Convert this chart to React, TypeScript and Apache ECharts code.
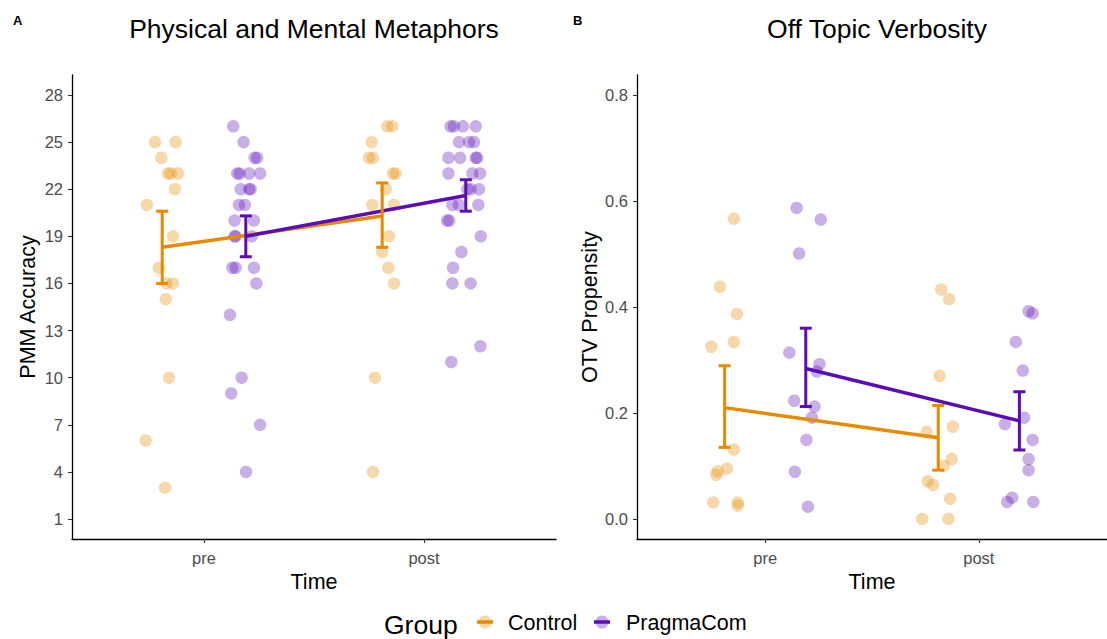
import React, { useEffect, useRef } from "react";
import * as echarts from "echarts";

// ---------- Data ----------
const timeLabels = ["pre", "post"];
const groups = ["Control", "PragmaCom"];
const pmmTicks = [1, 4, 7, 10, 13, 16, 19, 22, 25, 28];
const otvTicks = [0, 0.2, 0.4, 0.6, 0.8];

// Panel A: jittered points [x, value]  (x: 1 = pre, 2 = post)
const pmmControl: number[][] = [
  [0.777, 25], [0.871, 25], [0.806, 24], [0.836, 23], [0.849, 23], [0.882, 23],
  [0.868, 22], [0.74, 21], [0.859, 19], [0.795, 17], [0.829, 16], [0.859, 16],
  [0.826, 15], [0.841, 10], [0.735, 6], [0.823, 3],
  [1.833, 26], [1.856, 26], [1.762, 25], [1.75, 24], [1.768, 24], [1.859, 23],
  [1.871, 23], [1.826, 22], [1.765, 21], [1.864, 21], [1.841, 19], [1.81, 18],
  [1.838, 17], [1.864, 16], [1.777, 10], [1.768, 4],
];
const pmmPragma: number[][] = [
  [1.133, 26], [1.18, 25], [1.23, 24], [1.242, 24], [1.151, 23], [1.162, 23],
  [1.205, 23], [1.255, 23], [1.167, 22], [1.205, 22], [1.212, 22], [1.159, 21],
  [1.186, 21], [1.139, 20], [1.227, 20], [1.139, 19], [1.144, 19], [1.217, 19],
  [1.129, 17], [1.144, 17], [1.227, 17], [1.238, 16], [1.118, 14], [1.171, 10],
  [1.124, 9], [1.255, 7], [1.191, 4],
  [2.121, 26], [2.136, 26], [2.177, 26], [2.235, 26], [2.159, 25], [2.205, 25],
  [2.227, 25], [2.111, 24], [2.164, 24], [2.235, 24], [2.242, 24], [2.111, 23],
  [2.22, 23], [2.255, 23], [2.197, 22], [2.212, 22], [2.25, 22], [2.129, 21],
  [2.159, 21], [2.247, 21], [2.105, 20], [2.115, 20], [2.258, 19], [2.17, 18],
  [2.132, 17], [2.129, 16], [2.212, 16], [2.256, 12], [2.124, 11],
];
// Panel A means and error bars: [x, mean, low, high]
const pmmControlMean: number[][] = [[0.81, 18.3, 16.0, 20.6], [1.81, 20.3, 18.3, 22.4]];
const pmmPragmaMean: number[][] = [[1.19, 19.0, 17.7, 20.3], [2.19, 21.6, 20.6, 22.6]];

// Panel B
const otvControl: number[][] = [
  [0.853, 0.567], [0.788, 0.438], [0.868, 0.387], [0.853, 0.334], [0.748, 0.325],
  [0.853, 0.131], [0.777, 0.09], [0.822, 0.095], [0.771, 0.083], [0.757, 0.031],
  [0.872, 0.031], [0.872, 0.025],
  [1.824, 0.433], [1.861, 0.415], [1.816, 0.27], [1.756, 0.164], [1.878, 0.174],
  [1.873, 0.113], [1.835, 0.1], [1.761, 0.071], [1.786, 0.064], [1.866, 0.038],
  [1.735, 0.0], [1.858, 0.0],
];
const otvPragma: number[][] = [
  [1.147, 0.587], [1.26, 0.565], [1.159, 0.501], [1.113, 0.314], [1.254, 0.292],
  [1.242, 0.278], [1.136, 0.223], [1.231, 0.212], [1.219, 0.191], [1.193, 0.149],
  [1.139, 0.089], [1.2, 0.023],
  [2.233, 0.392], [2.252, 0.388], [2.173, 0.334], [2.206, 0.28], [2.122, 0.179],
  [2.212, 0.191], [2.252, 0.149], [2.233, 0.113], [2.233, 0.092], [2.156, 0.04],
  [2.133, 0.032], [2.255, 0.032],
];
const otvControlMean: number[][] = [[0.81, 0.21, 0.135, 0.289], [1.81, 0.153, 0.092, 0.214]];
const otvPragmaMean: number[][] = [[1.19, 0.284, 0.212, 0.36], [2.19, 0.185, 0.13, 0.24]];

// ---------- Style ----------
const ORANGE = "#E68A00";
const PURPLE = "#5A0CB5";
const FONT = "Liberation Sans, Arial, Helvetica, sans-serif";

export default function App() {
  const ref = useRef<HTMLDivElement>(null);

  useEffect(() => {
    if (!ref.current) return;
    const chart = echarts.init(ref.current, null, { renderer: "svg" });

    const xAxisBase = (gridIndex: number) => ({
      type: "value",
      gridIndex,
      min: 0.4,
      max: 2.6,
      name: "Time",
      nameLocation: "middle",
      nameGap: 30,
      nameTextStyle: { fontSize: 21.5, color: "#000", fontFamily: FONT },
      axisLine: { show: true, onZero: false, lineStyle: { color: "#000", width: 1.3 } },
      axisTick: { show: true, customValues: [1, 2], length: 4, lineStyle: { color: "#333", width: 1.1 } },
      axisLabel: {
        customValues: [1, 2],
        formatter: (v: number) => timeLabels[Math.round(v) - 1] ?? "",
        fontSize: 16.5,
        color: "#4D4D4D",
        fontFamily: FONT,
        margin: 10,
      },
      splitLine: { show: false },
    });

    const yAxisBase = (gridIndex: number, name: string, min: number, max: number, ticks: number[], fmt: (v: number) => string, gap: number) => ({
      type: "value",
      gridIndex,
      min,
      max,
      name,
      nameLocation: "middle",
      nameGap: gap,
      nameRotate: 90,
      nameTextStyle: { fontSize: 21.5, color: "#000", fontFamily: FONT },
      axisLine: { show: true, onZero: false, lineStyle: { color: "#000", width: 1.3 } },
      axisTick: { show: true, customValues: ticks, length: 4, lineStyle: { color: "#333", width: 1.1 } },
      axisLabel: {
        customValues: ticks,
        formatter: fmt,
        fontSize: 16.5,
        color: "#4D4D4D",
        fontFamily: FONT,
        margin: 9,
      },
      splitLine: { show: false },
    });

    const scatter = (data: number[][], color: string, idx: number) => ({
      type: "scatter",
      xAxisIndex: idx,
      yAxisIndex: idx,
      data,
      symbolSize: 12.5,
      itemStyle: { color, opacity: 0.33 },
      emphasis: { disabled: true },
      silent: true,
      z: 2,
    });

    const meanLine = (data: number[][], color: string, idx: number, z: number) => ({
      type: "line",
      xAxisIndex: idx,
      yAxisIndex: idx,
      data: data.map((d) => [d[0], d[1]]),
      symbol: "none",
      lineStyle: { color, width: 3.5 },
      silent: true,
      z,
    });

    const errBar = (data: number[][], color: string, idx: number, z: number) => ({
      type: "custom",
      xAxisIndex: idx,
      yAxisIndex: idx,
      data: data.map((d) => [d[0], d[2], d[3]]),
      silent: true,
      z,
      renderItem: (_p: any, api: any) => {
        const x = api.value(0);
        const top = api.coord([x, api.value(2)]);
        const bot = api.coord([x, api.value(1)]);
        const hw = 6;
        const st = { stroke: color, lineWidth: 3 };
        return {
          type: "group",
          children: [
            { type: "line", shape: { x1: top[0], y1: top[1], x2: bot[0], y2: bot[1] }, style: st },
            { type: "line", shape: { x1: top[0] - hw, y1: top[1], x2: top[0] + hw, y2: top[1] }, style: st },
            { type: "line", shape: { x1: bot[0] - hw, y1: bot[1], x2: bot[0] + hw, y2: bot[1] }, style: st },
          ],
        };
      },
    });

    const legendKey = (x: number, color: string) => [
      { type: "circle", shape: { cx: x, cy: 622, r: 6.5 }, style: { fill: color, opacity: 0.33 } },
      { type: "line", shape: { x1: x - 8, y1: 622, x2: x + 8, y2: 622 }, style: { stroke: color, lineWidth: 3.5 } },
    ];

    chart.setOption({
      animation: false,
      backgroundColor: "#fff",
      textStyle: { fontFamily: FONT },
      grid: [
        { left: 72, top: 75, width: 484, height: 464, containLabel: false },
        { left: 637, top: 75, width: 480, height: 464, containLabel: false },
      ],
      xAxis: [xAxisBase(0), xAxisBase(1)],
      yAxis: [
        yAxisBase(0, "PMM Accuracy", -0.27, 29.27, pmmTicks, (v) => String(Math.round(v)), 33),
        yAxisBase(1, "OTV Propensity", -0.038, 0.838, otvTicks, (v) => v.toFixed(1), 36),
      ],
      series: [
        scatter(pmmControl, ORANGE, 0),
        scatter(pmmPragma, PURPLE, 0),
        meanLine(pmmControlMean, ORANGE, 0, 3),
        meanLine(pmmPragmaMean, PURPLE, 0, 4),
        errBar(pmmControlMean, ORANGE, 0, 5),
        errBar(pmmPragmaMean, PURPLE, 0, 6),
        scatter(otvControl, ORANGE, 1),
        scatter(otvPragma, PURPLE, 1),
        meanLine(otvControlMean, ORANGE, 1, 3),
        meanLine(otvPragmaMean, PURPLE, 1, 4),
        errBar(otvControlMean, ORANGE, 1, 5),
        errBar(otvPragmaMean, PURPLE, 1, 6),
      ],
      graphic: [
        { type: "text", x: 314, y: 29, style: { text: "Physical and Mental Metaphors", fontSize: 26.5, fontFamily: FONT, fill: "#000", textAlign: "center", textVerticalAlign: "middle" } },
        { type: "text", x: 877, y: 29, style: { text: "Off Topic Verbosity", fontSize: 26.5, fontFamily: FONT, fill: "#000", textAlign: "center", textVerticalAlign: "middle" } },
        { type: "text", x: 13, y: 20, style: { text: "A", fontSize: 13, fontWeight: "bold", fontFamily: FONT, fill: "#000", textVerticalAlign: "middle" } },
        { type: "text", x: 573, y: 20, style: { text: "B", fontSize: 13, fontWeight: "bold", fontFamily: FONT, fill: "#000", textVerticalAlign: "middle" } },
        { type: "text", x: 384, y: 625, style: { text: "Group", fontSize: 26.5, fontFamily: FONT, fill: "#000", textVerticalAlign: "middle" } },
        ...legendKey(485, ORANGE),
        { type: "text", x: 508, y: 623, style: { text: groups[0], fontSize: 21.5, fontFamily: FONT, fill: "#000", textVerticalAlign: "middle" } },
        ...legendKey(602, PURPLE),
        { type: "text", x: 626, y: 623, style: { text: groups[1], fontSize: 21.5, fontFamily: FONT, fill: "#000", textVerticalAlign: "middle" } },
      ],
    });

    return () => chart.dispose();
  }, []);

  return <div ref={ref} style={{ width: 1107, height: 639, position: "absolute", left: 0, top: 0 }} />;
}
